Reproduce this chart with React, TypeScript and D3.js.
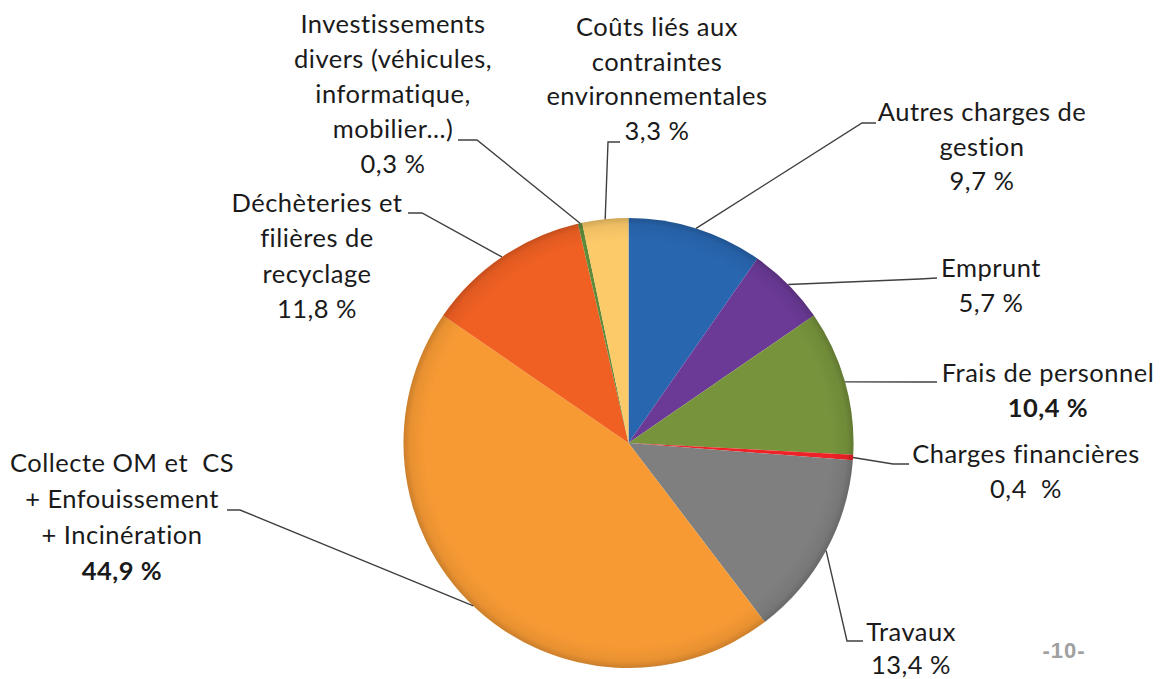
import React from "react";
import * as d3 from "d3";

const categories = [
  "Autres charges de gestion",
  "Emprunt",
  "Frais de personnel",
  "Charges financières",
  "Travaux",
  "Collecte OM et CS + Enfouissement + Incinération",
  "Déchèteries et filières de recyclage",
  "Investissements divers (véhicules, informatique, mobilier...)",
  "Coûts liés aux contraintes environnementales",
];
const values = [9.7, 5.7, 10.4, 0.4, 13.4, 44.9, 11.8, 0.3, 3.3];
const colors = ["#2866B0", "#6B3A97", "#77933C", "#EE2227", "#7F7F7F", "#F79A34", "#F06023", "#5F8A3A", "#FDCA69"];
const labelLines = [
  ["Autres charges de", "gestion", "9,7 %"],
  ["Emprunt", "5,7 %"],
  ["Frais de personnel", "10,4 %"],
  ["Charges financières", "0,4  %"],
  ["Travaux", "13,4 %"],
  ["Collecte OM et  CS", "+ Enfouissement", "+ Incinération", "44,9 %"],
  ["Déchèteries et", "filières de", "recyclage", "11,8 %"],
  ["Investissements", "divers (véhicules,", "informatique,", "mobilier...)", "0,3 %"],
  ["Coûts liés aux", "contraintes", "environnementales", "3,3 %"],
];
const boldLast = [false, false, true, false, false, true, false, false, false];

// layout: label block centre x, first baseline, line gap; leader elbow & end
const labelLayout = [
  { cx: 982, y: 121, gap: 34.5, elbow: [862, 123], end: [876, 123] },
  { cx: 991, y: 277, gap: 35, elbow: [920, 279], end: [937, 278] },
  { cx: 1048, y: 382, gap: 35, elbow: [920, 382], end: [937, 382] },
  { cx: 1026, y: 463, gap: 35, elbow: [893, 464], end: [909, 464] },
  { cx: 911, y: 641, gap: 32.5, elbow: [847, 641], end: [863, 641] },
  { cx: 122, y: 472, gap: 36, elbow: [240, 510], end: [227, 510] },
  { cx: 317, y: 212, gap: 35.3, elbow: [422, 213], end: [408, 213] },
  { cx: 393, y: 33, gap: 35, elbow: [477, 140], end: [458, 140] },
  { cx: 657, y: 36, gap: 34.7, elbow: [608, 142], end: [620, 142] },
];

const W = 1160;
const H = 679;
const CX = 628.5;
const CY = 443;
const R = 225;

export default function App() {
  const pie = d3.pie<number>().sort(null).value((d) => d)(values);
  const arc = d3.arc<d3.PieArcDatum<number>>().innerRadius(0).outerRadius(R);
  const edgeArc = d3.arc<d3.PieArcDatum<number>>().innerRadius(R).outerRadius(R);
  const font = "Lato, 'Open Sans', sans-serif";

  return (
    <svg width={W} height={H} style={{ position: "absolute", left: 0, top: 0, background: "#fff" }}>
      <defs>
        <radialGradient id="rim" cx="0" cy="0" r={R} gradientUnits="userSpaceOnUse">
          <stop offset="0.9" stopColor="#000" stopOpacity="0" />
          <stop offset="0.97" stopColor="#000" stopOpacity="0.06" />
          <stop offset="1" stopColor="#000" stopOpacity="0.18" />
        </radialGradient>
      </defs>
      <g transform={`translate(${CX},${CY})`}>
        {pie.map((d, i) => (
          <path key={categories[i]} d={arc(d) || ""} fill={colors[i]} />
        ))}
        <circle r={R} fill="url(#rim)" />
      </g>
      <g fill="none" stroke="#404040" strokeWidth={1.4}>
        {pie.map((d, i) => {
          const [px, py] = edgeArc.centroid(d);
          const L = labelLayout[i];
          const pts = [[CX + px, CY + py], L.elbow, L.end];
          return <polyline key={i} points={pts.map((p) => p.join(",")).join(" ")} />;
        })}
      </g>
      <g fontFamily={font} fontSize={25.5} letterSpacing={0.5} fill="#1a1a1a" textAnchor="middle" style={{ whiteSpace: "pre" }}>
        {labelLines.map((lines, i) => {
          const L = labelLayout[i];
          return (
            <text key={i} xmlSpace="preserve">
              {lines.map((ln, j) => (
                <tspan
                  key={j}
                  x={L.cx}
                  y={L.y + j * L.gap}
                  fontWeight={boldLast[i] && j === lines.length - 1 ? 700 : 400}
                >
                  {ln}
                </tspan>
              ))}
            </text>
          );
        })}
      </g>
      <text x={1064} y={658} textAnchor="middle" fontFamily="Arial, 'Liberation Sans', sans-serif" fontWeight={700} fontSize={22} letterSpacing={1} fill="#A0A0A0">
        -10-
      </text>
    </svg>
  );
}
